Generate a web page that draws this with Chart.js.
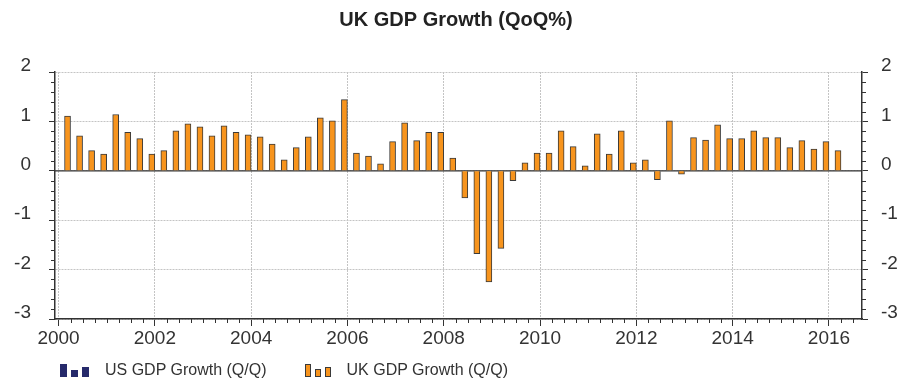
<!DOCTYPE html>
<html>
<head>
<meta charset="utf-8">
<script src="https://cdn.jsdelivr.net/npm/chart.js@4/dist/chart.umd.min.js"></script>
<style>
  body { margin: 0; background: #fff; }
  #wrap { position: relative; width: 912px; height: 381px; }
  #legend { position: absolute; left: 60px; top: 361px; display: flex; align-items: center;
            font: 16px "Liberation Sans", Arial, sans-serif; color: #333; }
  .item { display: flex; align-items: center; margin-right: 38px; }
  .icon { display: flex; align-items: flex-end; height: 14px; margin-right: 12px; }
  .icon span { display: block; box-sizing: border-box; margin-right: 4px; }
</style>
</head>
<body>
<div id="wrap">
  <canvas id="gdpChart" width="912" height="381"></canvas>
  <div id="legend"></div>
</div>
<script>
// quarters, 2000 Q1 .. 2016 Q1
const startYear = 2000
const ukGrowth = [
  1.11, 0.71, 0.41, 0.34,   // 2000
  1.14, 0.78, 0.65, 0.34,   // 2001
  0.41, 0.81, 0.95, 0.89,   // 2002
  0.71, 0.91, 0.78, 0.73,   // 2003
  0.69, 0.54, 0.22, 0.47,   // 2004
  0.69, 1.07, 1.01, 1.44,   // 2005
  0.36, 0.30, 0.14, 0.59,   // 2006
  0.97, 0.61, 0.78, 0.78,   // 2007
  0.26, -0.55, -1.68, -2.25, // 2008
  -1.57, -0.20, 0.16, 0.36, // 2009
  0.36, 0.81, 0.49, 0.10,   // 2010
  0.75, 0.34, 0.81, 0.16,   // 2011
  0.22, -0.18, 1.01, -0.07, // 2012
  0.67, 0.62, 0.93, 0.65,   // 2013
  0.65, 0.81, 0.67, 0.67,   // 2014
  0.47, 0.61, 0.44, 0.59,   // 2015
  0.41                      // 2016
]
const usGrowth = []
const seriesNames = ["US GDP Growth (Q/Q)", "UK GDP Growth (Q/Q)"]
const seriesColors = ["#262a6b", "#f7941d"]
const yTicks = [-3, -2, -1, 0, 1, 2]
const xLabelYears = [2000, 2002, 2004, 2006, 2008, 2010, 2012, 2014, 2016]

const FONT = "'Liberation Sans', Arial, sans-serif"
const isWhole = v => Math.abs(v - Math.round(v)) < 1e-6

// bar sits in the middle of its quarter
const ukPoints = ukGrowth.map((v, i) => ({ x: startYear + i * 0.25 + 0.125, y: v }))

// short minor ticks + zero line
const extras = {
  id: "extras",
  beforeDatasetsDraw(chart) {
    const {ctx, chartArea, scales} = chart
    const y0 = scales.y.getPixelForValue(0)
    ctx.save()
    ctx.strokeStyle = "#333"
    ctx.lineWidth = 1.2
    ctx.beginPath()
    ctx.moveTo(chartArea.left, y0)
    ctx.lineTo(chartArea.right, y0)
    ctx.stroke()
    ctx.restore()
  },
  afterDraw(chart) {
    const {ctx, chartArea, scales} = chart
    ctx.save()
    ctx.strokeStyle = "#333"
    ctx.lineWidth = 1
    ctx.beginPath()
    scales.y.ticks.forEach(t => {
      if (isWhole(t.value)) return
      const p = Math.round(scales.y.getPixelForValue(t.value)) + 0.5
      ctx.moveTo(chartArea.left - 4, p); ctx.lineTo(chartArea.left, p)
      ctx.moveTo(chartArea.right, p); ctx.lineTo(chartArea.right + 4, p)
    })
    scales.x.ticks.forEach(t => {
      if (xLabelYears.includes(t.value)) return
      const p = Math.round(scales.x.getPixelForValue(t.value)) + 0.5
      ctx.moveTo(p, chartArea.bottom); ctx.lineTo(p, chartArea.bottom + 4)
    })
    ctx.stroke()
    ctx.restore()
  }
}

const yAxis = (position, width, pad) => ({
  type: "linear",
  position,
  min: yTicks[0],
  max: yTicks[yTicks.length - 1],
  afterFit: s => { s.width = width },
  ticks: {
    stepSize: 0.2,
    autoSkip: false,
    color: "#333",
    padding: pad,
    labelOffset: -6,
    font: { family: FONT, size: 19 },
    callback: v => (isWhole(v) && yTicks.includes(Math.round(v))) ? String(Math.round(v)) : ""
  },
  grid: {
    drawOnChartArea: position === "left",
    tickLength: 6,
    color: c => isWhole(c.tick.value) ? "#c4c4c4" : "transparent",
    tickColor: c => isWhole(c.tick.value) ? "#333" : "transparent"
  },
  border: { display: true, color: "#333", width: 1.5, dash: [2, 1] }
})

new Chart(document.getElementById("gdpChart"), {
  type: "bar",
  data: {
    datasets: [
      { label: seriesNames[0], data: usGrowth, backgroundColor: seriesColors[0] },
      {
        label: seriesNames[1],
        data: ukPoints,
        backgroundColor: seriesColors[1],
        borderColor: "#3a3a3a",
        borderWidth: 1,
        barThickness: 6
      }
    ]
  },
  options: {
    responsive: false,
    animation: false,
    layout: { padding: 0 },
    plugins: {
      legend: { display: false },
      tooltip: { enabled: false },
      title: {
        display: true,
        text: "UK GDP Growth (QoQ%)",
        color: "#222",
        font: { family: FONT, size: 20, weight: "bold" },
        padding: { top: 8, bottom: 40 }
      }
    },
    scales: {
      x: {
        type: "linear",
        min: 1999.927,
        max: 2016.686,
        offset: false,
        afterFit: s => { s.height = 62 },
        ticks: {
          stepSize: 0.25,
          includeBounds: false,
          autoSkip: false,
          maxRotation: 0,
          color: "#333",
          padding: 1,
          font: { family: FONT, size: 19 },
          callback: v => xLabelYears.includes(v) ? String(v) : ""
        },
        grid: {
          offset: false,
          tickLength: 7,
          color: c => xLabelYears.includes(c.tick.value) ? "#c4c4c4" : "transparent",
          tickColor: c => xLabelYears.includes(c.tick.value) ? "#333" : "transparent"
        },
        border: { display: true, color: "#333", width: 1.5, dash: [2, 1] }
      },
      y: yAxis("left", 55, 18),
      y2: yAxis("right", 50, 13)
    }
  },
  plugins: [extras]
})

// legend with little three-bar icons
const iconHeights = [[13, 7, 10], [13, 8, 10]]
const legend = document.getElementById("legend")
seriesNames.forEach((name, i) => {
  const item = document.createElement("div")
  item.className = "item"
  const icon = document.createElement("div")
  icon.className = "icon"
  iconHeights[i].forEach(h => {
    const bar = document.createElement("span")
    bar.style.width = (i === 0 ? 7 : 6) + "px"
    bar.style.height = h + "px"
    bar.style.background = seriesColors[i]
    if (i === 1) bar.style.border = "1px solid #3a3a3a"
    icon.appendChild(bar)
  })
  const txt = document.createElement("span")
  txt.textContent = name
  item.appendChild(icon)
  item.appendChild(txt)
  legend.appendChild(item)
})
</script>
</body>
</html>
